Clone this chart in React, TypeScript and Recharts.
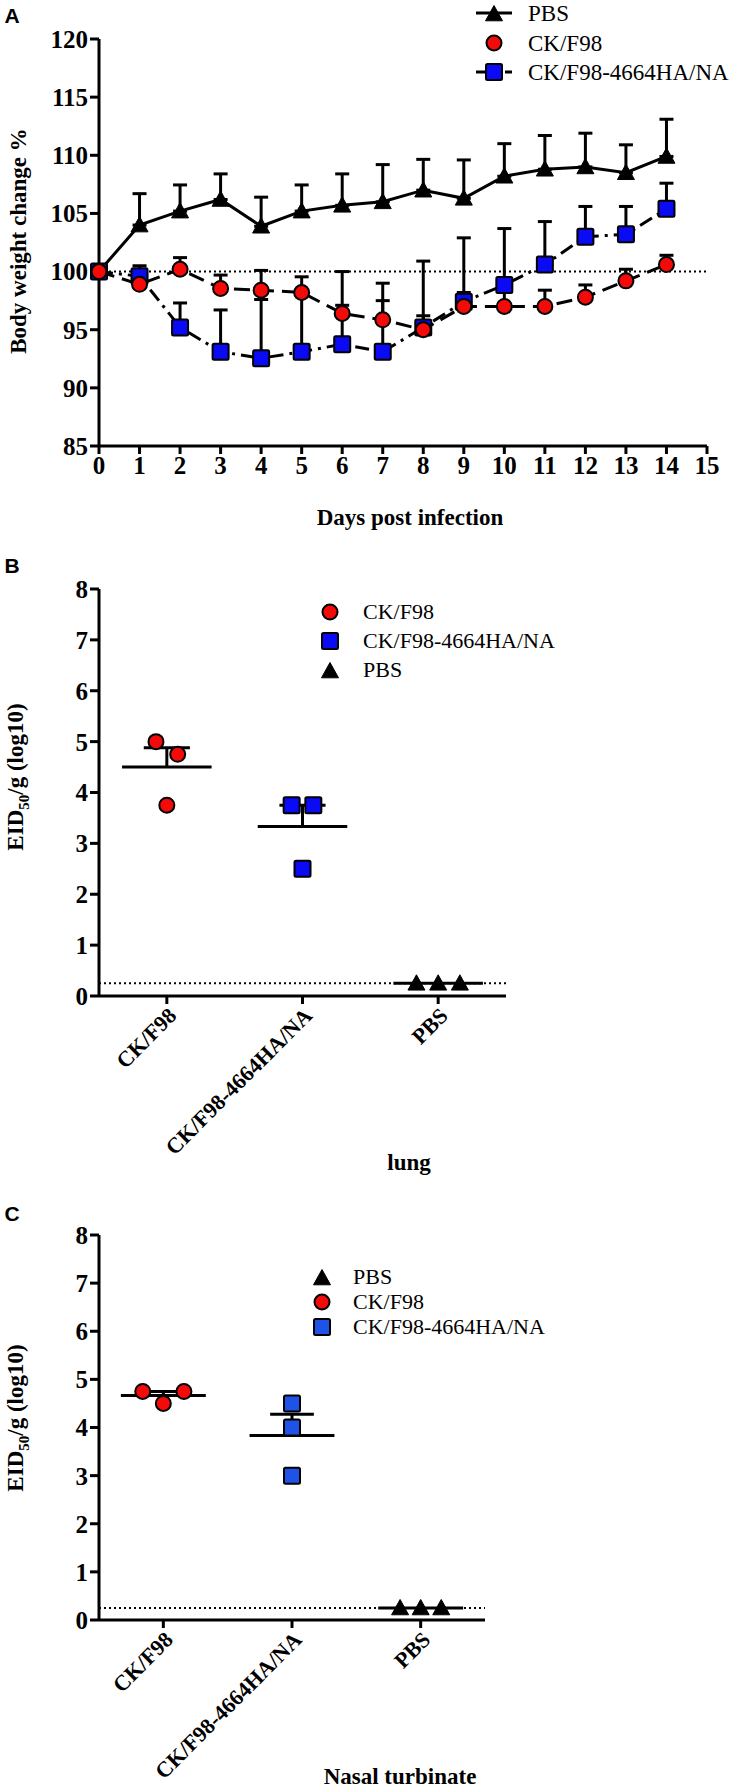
import React from 'react';
import {
    LineChart,
    Line,
    XAxis,
    YAxis,
    ErrorBar,
    ReferenceLine,
    ScatterChart,
    Scatter,
} from 'recharts';

// ---- panel A : body weight ----
const days = [0, 1, 2, 3, 4, 5, 6, 7, 8, 9, 10, 11, 12, 13, 14];
const pbsMean = [100, 104.0, 105.2, 106.2, 103.9, 105.2, 105.7, 106.0, 107.0, 106.3, 108.2, 108.8, 109.0, 108.5, 109.9];
const pbsSd = [0, 2.7, 2.25, 2.2, 2.5, 2.25, 2.7, 3.2, 2.65, 3.3, 2.8, 2.9, 2.9, 2.4, 3.2];
const ckMean = [100, 98.9, 100.2, 98.55, 98.4, 98.2, 96.4, 95.85, 95.0, 97.0, 97.0, 97.0, 97.8, 99.2, 100.6];
const ckSd = [0, 1.2, 1.0, 1.15, 1.7, 1.35, 3.6, 3.15, 1.2, 1.2, 1.4, 1.4, 1.05, 1.0, 0.8];
const haMean = [100, 99.6, 95.2, 93.1, 92.55, 93.1, 93.75, 93.1, 95.2, 97.4, 98.85, 100.6, 103.0, 103.2, 105.4];
const haSd = [0, 0.9, 2.1, 3.6, 5.05, 5.1, 3.35, 4.4, 5.7, 5.5, 4.85, 3.7, 2.6, 2.4, 2.2];
const weightTicksX = [0, 1, 2, 3, 4, 5, 6, 7, 8, 9, 10, 11, 12, 13, 14, 15];
const weightTicksY = [85, 90, 95, 100, 105, 110, 115, 120];

// ---- panels B / C : virus titres ----
const groups = ['CK/F98', 'CK/F98-4664HA/NA', 'PBS'];
const titreTicks = [0, 1, 2, 3, 4, 5, 6, 7, 8];
const detectionLimit = 0.25;

const lungCk = [5.0, 4.75, 3.75];
const lungHa = [3.75, 3.75, 2.5];
const lungPbs = [0.25, 0.25, 0.25];
const lungJitterCk = [-0.08, 0.08, 0];
const lungJitterHa = [-0.08, 0.08, 0];
const lungJitterPbs = [-0.16, 0, 0.16];

const nasalCk = [4.75, 4.75, 4.5];
const nasalHa = [4.5, 4.0, 3.0];
const nasalPbs = [0.25, 0.25, 0.25];
const nasalJitterCk = [-0.16, 0.16, 0];
const nasalJitterHa = [0, 0, 0];
const nasalJitterPbs = [-0.16, 0, 0.16];

const RED = '#f50a0a';
const BLUE = '#0a0af5';
const BLUE_C = '#1f52e6';
const SERIF = 'Liberation Serif, Times New Roman, Times, serif';
const SANS = 'Liberation Sans, Arial, sans-serif';

const weightData = days.map((d, i) => ({
    day: d,
    pbs: pbsMean[i],
    pbsErr: [0, pbsSd[i]],
    ck: ckMean[i],
    ckErr: [0, ckSd[i]],
    ha: haMean[i],
    haErr: [0, haSd[i]],
}));

const mean = (a: number[]) => a.reduce((s, v) => s + v, 0) / a.length;
const sem = (a: number[]) => {
    const m = mean(a);
    const sd = Math.sqrt(a.reduce((s, v) => s + (v - m) * (v - m), 0) / (a.length - 1));
    return sd / Math.sqrt(a.length);
};

const toPoints = (vals: number[], jitter: number[], g: number) =>
    vals.map((v, i) => ({ x: g + 0.5 + jitter[i], y: v }));

// markers
const Tri = ({ cx, cy, s = 17 }: any) => (
    <path
        d={`M${cx},${cy - s * 0.5} L${cx + s / 2},${cy + s * 0.4} L${cx - s / 2},${cy + s * 0.4} Z`}
        fill="#000"
        stroke="#000"
        strokeWidth={1}
        strokeLinejoin="round"
    />
);
const Circ = ({ cx, cy, fill = RED }: any) => (
    <circle cx={cx} cy={cy} r={7.5} fill={fill} stroke="#000" strokeWidth={2} />
);
const Sq = ({ cx, cy, fill = BLUE }: any) => (
    <rect x={cx - 8} y={cy - 8} width={16} height={16} rx={1.5} fill={fill} stroke="#000" strokeWidth={2} />
);

const tickStyle = { fill: '#000', fontSize: 25, fontWeight: 'bold', fontFamily: SERIF };
const axisStroke = { stroke: '#000', strokeWidth: 3 };

const Txt = ({ x, y, children, size = 22, bold = true, rotate = false, font = SERIF, anchor = 'center' }: any) => (
    <div
        style={{
            position: 'absolute',
            left: x,
            top: y,
            transform: `translate(${anchor === 'left' ? '0' : '-50%'}, -50%)${rotate ? ' rotate(-90deg)' : ''}`,
            fontFamily: font,
            fontSize: size,
            fontWeight: bold ? 'bold' : 'normal',
            whiteSpace: 'nowrap',
            lineHeight: 1,
            color: '#000',
        }}
    >
        {children}
    </div>
);

const LegendRow = ({ x, y, textX, label, kind, line, fill, size = 22 }: any) => (
    <>
        <svg style={{ position: 'absolute', left: x - 22, top: y - 12 }} width={44} height={24}>
            {line && <line x1={4} y1={12} x2={40} y2={12} stroke="#000" strokeWidth={3} strokeDasharray={line} />}
            {kind === 'tri' && <Tri cx={22} cy={13} />}
            {kind === 'circ' && <Circ cx={22} cy={12} fill={fill} />}
            {kind === 'sq' && <Sq cx={22} cy={12} fill={fill} />}
        </svg>
        <Txt x={textX} y={y} size={size} bold={false} anchor="left">
            {label}
        </Txt>
    </>
);

const TitrePanel = ({ top, height, marginTop, marginRight, xAxisHeight, ck, ha, pbs, jCk, jHa, jPbs, blue }: any) => {
    const sets = [ck, ha, pbs];
    return (
        <div style={{ position: 'absolute', left: 0, top }}>
            <ScatterChart width={739} height={height} margin={{ top: marginTop, right: marginRight, bottom: 0, left: 0 }}>
                <XAxis
                    type="number"
                    dataKey="x"
                    domain={[0, 3]}
                    ticks={[0.5, 1.5, 2.5]}
                    tickFormatter={(v: number) => groups[Math.floor(v)]}
                    interval={0}
                    height={xAxisHeight}
                    axisLine={axisStroke}
                    tickLine={axisStroke}
                    tickSize={8}
                    tick={{ ...tickStyle, fontSize: 22, angle: -45, textAnchor: 'end' }}
                />
                <YAxis
                    type="number"
                    dataKey="y"
                    domain={[0, 8]}
                    ticks={titreTicks}
                    interval={0}
                    width={99}
                    axisLine={axisStroke}
                    tickLine={axisStroke}
                    tickSize={9}
                    tickMargin={2}
                    tick={tickStyle}
                />
                <ReferenceLine y={detectionLimit} stroke="#000" strokeWidth={2} strokeDasharray="2 3" />
                <Scatter data={toPoints(ck, jCk, 0)} isAnimationActive={false} shape={(p: any) => <Circ cx={p.cx} cy={p.cy} />} />
                <Scatter data={toPoints(ha, jHa, 1)} isAnimationActive={false} shape={(p: any) => <Sq cx={p.cx} cy={p.cy} fill={blue} />} />
                <Scatter data={toPoints(pbs, jPbs, 2)} isAnimationActive={false} shape={(p: any) => <Tri cx={p.cx} cy={p.cy} />} />
                {sets.map((vals: number[], g: number) => {
                    const m = mean(vals);
                    const s = sem(vals);
                    return [
                        <ReferenceLine
                            key={`m${g}`}
                            segment={[{ x: g + 0.17, y: m }, { x: g + 0.83, y: m }]}
                            stroke="#000"
                            strokeWidth={3}
                        />,
                        s > 0 ? (
                            <ReferenceLine
                                key={`v${g}`}
                                segment={[{ x: g + 0.5, y: m }, { x: g + 0.5, y: m + s }]}
                                stroke="#000"
                                strokeWidth={3}
                            />
                        ) : null,
                        s > 0 ? (
                            <ReferenceLine
                                key={`c${g}`}
                                segment={[{ x: g + 0.33, y: m + s }, { x: g + 0.67, y: m + s }]}
                                stroke="#000"
                                strokeWidth={3}
                            />
                        ) : null,
                    ];
                })}
            </ScatterChart>
        </div>
    );
};

export default function App() {
    return (
        <div style={{ position: 'absolute', left: 0, top: 0, width: 739, height: 1791, background: '#fff', overflow: 'hidden' }}>
            {/* Panel A */}
            <div style={{ position: 'absolute', left: 0, top: 0 }}>
                <LineChart width={739} height={540} data={weightData} margin={{ top: 39, right: 32, bottom: 0, left: 0 }}>
                    <XAxis
                        type="number"
                        dataKey="day"
                        domain={[0, 15]}
                        ticks={weightTicksX}
                        interval={0}
                        height={94}
                        axisLine={axisStroke}
                        tickLine={axisStroke}
                        tickSize={8}
                        tickMargin={2}
                        tick={tickStyle}
                    />
                    <YAxis
                        type="number"
                        domain={[85, 120]}
                        ticks={weightTicksY}
                        interval={0}
                        width={99}
                        allowDataOverflow
                        axisLine={axisStroke}
                        tickLine={axisStroke}
                        tickSize={9}
                        tickMargin={2}
                        tick={tickStyle}
                    />
                    <ReferenceLine y={100} stroke="#000" strokeWidth={2} strokeDasharray="2 3" />
                    <Line
                        type="linear"
                        dataKey="pbs"
                        stroke="#000"
                        strokeWidth={3}
                        isAnimationActive={false}
                        dot={(p: any) => <Tri key={`t${p.index}`} cx={p.cx} cy={p.cy} />}
                    >
                        <ErrorBar dataKey="pbsErr" direction="y" width={7} stroke="#000" strokeWidth={3} />
                    </Line>
                    <Line
                        type="linear"
                        dataKey="ha"
                        stroke="#000"
                        strokeWidth={3}
                        strokeDasharray="14 6 3 6"
                        isAnimationActive={false}
                        dot={(p: any) => <Sq key={`s${p.index}`} cx={p.cx} cy={p.cy} />}
                    >
                        <ErrorBar dataKey="haErr" direction="y" width={7} stroke="#000" strokeWidth={3} />
                    </Line>
                    <Line
                        type="linear"
                        dataKey="ck"
                        stroke="#000"
                        strokeWidth={3}
                        strokeDasharray="16 8"
                        isAnimationActive={false}
                        dot={(p: any) => <Circ key={`c${p.index}`} cx={p.cx} cy={p.cy} />}
                    >
                        <ErrorBar dataKey="ckErr" direction="y" width={7} stroke="#000" strokeWidth={3} />
                    </Line>
                </LineChart>
            </div>
            <Txt x={12} y={15} size={21} font={SANS}>A</Txt>
            <Txt x={18} y={241} size={23} rotate>Body weight change %</Txt>
            <Txt x={410} y={517} size={23}>Days post infection</Txt>
            <LegendRow x={494} y={13} textX={528} size={23} label="PBS" kind="tri" line="none" />
            <LegendRow x={494} y={43} textX={528} size={23} label="CK/F98" kind="circ" fill={RED} />
            <LegendRow x={494} y={72} textX={528} size={23} label="CK/F98-4664HA/NA" kind="sq" fill={BLUE} line="14 6 3 6" />

            {/* Panel B */}
            <TitrePanel
                top={560}
                height={620}
                marginTop={29}
                marginRight={233}
                xAxisHeight={184}
                ck={lungCk}
                ha={lungHa}
                pbs={lungPbs}
                jCk={lungJitterCk}
                jHa={lungJitterHa}
                jPbs={lungJitterPbs}
                blue={BLUE}
            />
            <Txt x={12} y={565} size={21} font={SANS}>B</Txt>
            <Txt x={18} y={777} size={23} rotate>
                EID<sub style={{ fontSize: 15 }}>50</sub>/g (log10)
            </Txt>
            <Txt x={409} y={1162} size={23}>lung</Txt>
            <LegendRow x={330} y={612} textX={363} label="CK/F98" kind="circ" fill={RED} />
            <LegendRow x={330} y={641} textX={363} label="CK/F98-4664HA/NA" kind="sq" fill={BLUE} />
            <LegendRow x={330} y={670} textX={363} label="PBS" kind="tri" />

            {/* Panel C */}
            <TitrePanel
                top={1200}
                height={591}
                marginTop={35}
                marginRight={254}
                xAxisHeight={171}
                ck={nasalCk}
                ha={nasalHa}
                pbs={nasalPbs}
                jCk={nasalJitterCk}
                jHa={nasalJitterHa}
                jPbs={nasalJitterPbs}
                blue={BLUE_C}
            />
            <Txt x={12} y={1213} size={21} font={SANS}>C</Txt>
            <Txt x={18} y={1418} size={23} rotate>
                EID<sub style={{ fontSize: 15 }}>50</sub>/g (log10)
            </Txt>
            <Txt x={400} y={1776} size={23}>Nasal turbinate</Txt>
            <LegendRow x={322} y={1277} textX={353} label="PBS" kind="tri" />
            <LegendRow x={322} y={1302} textX={353} label="CK/F98" kind="circ" fill={RED} />
            <LegendRow x={322} y={1327} textX={353} label="CK/F98-4664HA/NA" kind="sq" fill={BLUE_C} />
        </div>
    );
}
